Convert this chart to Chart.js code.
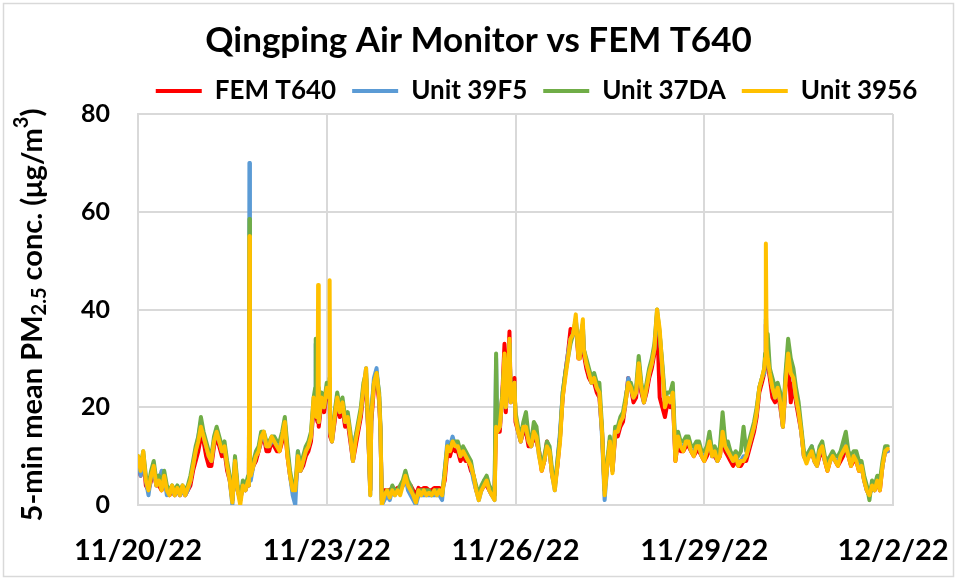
<!DOCTYPE html>
<html>
<head>
<meta charset="utf-8">
<script src="https://cdn.jsdelivr.net/npm/chart.js@4.4.1/dist/chart.umd.min.js"></script>
<style>
  body { margin: 0; background: #fff; }
  #wrap { width: 957px; height: 580px; }
</style>
</head>
<body>
<div id="wrap"><canvas id="pmChart" width="957" height="580"></canvas></div>
<script>
// hours since 11/20/22 00:00 (extra points at the spikes)
const hours = [
  0, 1, 2, 3, 4, 5, 6, 7, 8, 9,
  10, 11, 12, 13, 14, 15, 16, 17, 18, 19,
  20, 21, 22, 23, 24, 25, 26, 27, 28, 29,
  30, 31, 32, 33, 34, 35, 36, 37, 38, 39,
  40, 41, 42, 42.3, 42.5, 42.7, 43, 44, 45, 46,
  47, 48, 49, 50, 51, 52, 53, 54, 55, 56,
  57, 58, 59, 60, 61, 62, 63, 64, 65, 66,
  67, 67.6, 67.8, 68, 68.5, 68.7, 68.9, 69, 70, 71,
  72, 72.9, 73.1, 73.3, 74, 75, 76, 77, 78, 79,
  80, 81, 82, 83, 84, 85, 86, 87, 88, 88.6,
  89, 90, 91, 92, 92.5, 93, 94, 95, 96, 97,
  98, 99, 100, 101, 102, 103, 104, 105, 106, 107,
  108, 109, 110, 111, 112, 113, 114, 115, 116, 117,
  118, 119, 120, 121, 122, 123, 124, 125, 126, 127,
  128, 129, 130, 131, 132, 133, 134, 135, 136, 136.6,
  137, 138, 139, 139.8, 140.3, 141, 141.7, 142.2, 143, 143.6,
  144, 145, 146, 147, 148, 149, 150, 151, 152, 153,
  154, 155, 156, 157, 158, 159, 160, 161, 162, 163,
  164, 165, 166, 167, 168, 168.5, 169, 169.7, 170, 171,
  172, 173, 174, 175, 176, 177, 178, 179, 180, 181,
  182, 183, 184, 185, 186, 187, 188, 189, 190, 191,
  192, 193, 194, 195, 196, 197, 198, 199, 200, 201,
  202, 203, 204, 205, 206, 207, 208, 209, 210, 211,
  212, 213, 214, 215, 216, 217, 218, 219, 220, 221,
  222, 223, 224, 225, 226, 227, 228, 229, 230, 231,
  232, 233, 234, 235, 236, 237, 238, 238.9, 239.2, 239.5,
  239.8, 240.2, 241, 242, 243, 244, 245, 246, 247, 248,
  249, 250, 251, 252, 253, 254, 255, 256, 257, 258,
  259, 260, 261, 262, 263, 264, 265, 266, 267, 268,
  269, 270, 271, 272, 273, 274, 275, 276, 277, 278,
  279, 280, 281, 282, 283, 284, 285, 286
];

const femT640 = [
  9, 6, 10, 4, 3, 5, 7, 4, 4, 3,
  5, 3, 2, 3, 2, 3, 2, 3, 2, 3,
  4, 7, 9, 11, 14, 13, 10, 8, 8, 12,
  14, 12, 10, 11, 7, 5, 1, 8, 3, 1,
  4, 3, 5, 4, 38, 6, 6, 8, 9, 11,
  13, 14, 11, 11, 13, 12, 11, 11, 13, 16,
  10, 6, 3, 3, 9, 7, 8, 10, 11, 13,
  20, 19, 19, 18, 17, 21, 16, 16, 21, 19,
  23, 22, 24, 14, 13, 17, 21, 18, 20, 16,
  17, 13, 9, 12, 15, 18, 23, 26, 12, 3,
  17, 24, 26, 21, 15, 1, 3, 3, 3, 3.5,
  3, 3.5, 3, 4, 5, 4, 4, 3, 2, 3.5,
  3, 3.5, 3.5, 3, 3, 3.5, 3.5, 3.5, 3, 5,
  11, 10, 12, 11, 11, 9, 10, 9, 9, 7,
  6, 3, 2, 3, 4, 4, 3, 2, 2, 17,
  15, 15, 23, 33, 19, 26, 35.5, 21, 24, 26,
  17, 15, 13, 15, 15, 12, 12, 14, 13, 11,
  7, 9, 13, 11, 6, 4, 8, 14, 22, 27,
  31, 36, 35, 37, 30, 30, 34, 36, 31, 28,
  26, 25, 25, 23, 22, 15, 3, 8, 13, 7,
  14, 14, 16, 17, 21, 26, 24, 21, 22, 28,
  23, 21, 23, 26, 28, 31, 38, 22, 20, 18,
  21, 20, 22, 9, 13, 11, 11, 12, 12, 11,
  10, 11, 11, 10, 9, 10, 12, 10, 10, 9,
  10, 15, 11, 10, 9, 8, 9, 8, 8, 9,
  9, 11, 13, 15, 18, 23, 25, 27, 29, 37,
  31, 29, 26, 22, 21, 23, 20, 16, 24, 30,
  21, 25, 21, 18, 15, 10, 9, 10, 11, 9,
  8, 10, 11, 9, 7, 9, 10, 9, 8, 9,
  10, 12, 10, 8, 9, 9, 7, 8, 5, 3,
  2, 4, 3, 5, 3, 8, 11, 11
];

const unit39F5 = [
  9, 6, 10, 5, 2, 6, 7, 4, 5, 7,
  6, 2, 3, 3, 2, 3, 2, 3, 2, 3,
  5, 8, 11, 14, 17, 14, 12, 10, 9, 13,
  15, 13, 11, 12, 8, 5, 0, 9, 3, 1,
  4, 3, 5, 4, 70, 5, 5, 8, 10, 11,
  14, 14, 12, 12, 13, 13, 12, 12, 14, 17,
  11, 6, 2, 0, 11, 7, 9, 11, 12, 14,
  21, 23, 33, 19, 18, 22, 17, 17, 22, 20,
  24, 23, 25, 15, 13, 18, 22, 19, 21, 17,
  18, 14, 9, 14, 16, 19, 24, 28, 12, 2,
  19, 26, 28, 22, 15, 0, 1, 2, 1, 3,
  2, 3, 3, 4, 6, 3, 2, 1, 0, 2,
  2, 2, 2, 2, 2, 2, 2, 2, 1, 7,
  13, 12, 14, 12, 12, 10, 11, 10, 9, 8,
  5, 3, 1, 3, 5, 5, 3, 2, 1, 30,
  15, 16, 22, 30, 20, 25, 33, 21, 23, 25,
  18, 15, 13, 16, 16, 13, 12, 15, 14, 10,
  8, 9, 12, 11, 6, 3, 9, 15, 23, 27,
  31, 34, 35, 38, 31, 31, 35, 37, 32, 29,
  27, 25, 26, 24, 23, 14, 1, 8, 13, 7,
  15, 15, 17, 18, 21, 26, 24, 22, 23, 29,
  24, 21, 24, 27, 29, 32, 39, 35, 28, 21,
  22, 21, 23, 10, 14, 12, 12, 13, 13, 11,
  11, 12, 12, 10, 10, 11, 14, 10, 11, 9,
  11, 17, 12, 11, 10, 9, 10, 9, 9, 10,
  10, 12, 14, 16, 19, 24, 26, 27, 30, 38,
  32, 31, 27, 24, 22, 24, 21, 16, 26, 32,
  27, 26, 22, 19, 15, 10, 9, 11, 12, 9,
  8, 11, 12, 9, 8, 9, 10, 9, 9, 10,
  11, 13, 10, 9, 10, 10, 8, 8, 5, 3,
  2, 4, 3, 5, 4, 8, 11, 11
];

const unit37DA = [
  10, 8, 11, 6, 4, 7, 9, 5, 6, 4,
  7, 4, 3, 4, 3, 4, 3, 4, 3, 4,
  6, 9, 12, 14, 18, 15, 13, 11, 10, 14,
  16, 14, 12, 13, 9, 6, 1, 10, 4, 1,
  5, 4, 6, 5, 58.5, 7, 7, 9, 11, 12,
  15, 15, 13, 13, 14, 14, 13, 13, 15, 18,
  12, 7, 4, 4, 11, 8, 10, 12, 13, 15,
  22, 24, 34, 20, 19, 24, 18, 18, 23, 21,
  25, 24, 26, 16, 14, 19, 23, 20, 22, 18,
  19, 15, 10, 14, 17, 20, 25, 27, 13, 3,
  19, 25, 27, 23, 16, 1, 2, 3, 2, 4,
  3, 3, 4, 5, 7, 5, 4, 2, 1, 3,
  3, 3, 3, 3, 2, 3, 3, 3, 2, 7,
  12, 12, 13, 13, 13, 11, 12, 11, 10, 9,
  6, 4, 2, 4, 5, 6, 4, 3, 2, 31,
  16, 17, 23, 29, 21, 26, 33, 22, 24, 24,
  19, 16, 14, 17, 19, 14, 13, 17, 16, 11,
  8, 10, 13, 12, 7, 4, 9, 14, 23, 27,
  30, 33, 35, 38, 31, 31, 35, 37, 32, 30,
  28, 26, 27, 25, 25, 16, 3, 9, 14, 8,
  16, 16, 18, 19, 22, 25, 25, 23, 24, 30.5,
  25, 22, 25, 28, 30, 33, 40, 35, 29, 22,
  23, 23, 25, 11, 15, 13, 13, 14, 14, 12,
  12, 13, 13, 11, 11, 12, 15, 11, 12, 10,
  12, 19, 13, 13, 11, 10, 11, 10, 11, 16,
  11, 13, 15, 17, 20, 24, 26, 28, 31, 40,
  33, 35, 28, 26, 24, 25, 23, 17, 27, 34,
  30, 28, 24, 21, 16, 11, 10, 11, 12, 10,
  9, 12, 13, 10, 9, 10, 11, 10, 10, 11,
  13, 15, 11, 10, 11, 11, 9, 9, 6, 4,
  1, 5, 4, 6, 5, 9, 12, 12
];

const unit3956 = [
  10, 7, 11, 5, 3, 6, 8, 4, 5, 3,
  6, 3, 2, 4, 2, 3.5, 2, 4, 2, 3.5,
  5, 8, 11, 13, 16, 14, 12, 10, 9, 13,
  15, 13, 11, 12, 8, 5, 0.5, 9, 3, 0,
  4, 3, 5, 4, 55, 6, 6, 8, 10, 11,
  14, 15, 12, 12, 14, 13, 12, 11, 14, 17,
  10, 6, 3, 3, 10, 7, 9, 11, 12, 14,
  22, 20, 20, 18, 18, 45, 17, 17, 22, 20,
  24, 22, 46, 15, 13, 18, 22, 19, 21, 17,
  18, 14, 9, 13, 16, 19, 24, 28, 12, 2,
  18, 25, 27, 22, 15, 0, 2, 3, 1.5, 3,
  2, 3, 2, 4, 6, 4, 3, 2, 0.5, 3,
  2, 3, 2, 2.5, 2, 3, 2, 3, 2, 6,
  12, 11, 13, 12, 12, 10, 11, 10, 9, 8,
  6, 3, 1, 3, 4, 5, 3, 2, 1, 16,
  15, 16, 22, 31, 20, 25, 34, 21, 23, 25,
  18, 15, 13, 16, 16, 13, 12, 15, 14, 10,
  7, 9, 12, 11, 6, 3, 8, 13, 22, 26,
  30, 34, 35, 39, 30, 30, 35, 38, 32, 29,
  27, 25, 26, 24, 23, 15, 2, 8, 13, 6.5,
  15, 15, 17, 18, 21, 25, 24, 22, 23, 29,
  24, 21, 24, 27, 29, 32, 40, 36, 28, 20,
  22, 21, 23, 9, 14, 12, 11, 13, 13, 11,
  10, 12, 12, 10, 9, 11, 13, 10, 11, 9,
  10, 15, 12, 11, 10, 9, 10, 8, 9, 9,
  10, 12, 14, 16, 19, 24, 26, 28, 30, 53.5,
  32, 30, 27, 24, 22, 24, 21, 16, 25, 31,
  27, 26, 22, 19, 15, 10, 8.5, 10, 11, 9,
  8, 11, 12, 9, 7, 9, 10, 9, 8, 10,
  11, 12, 10, 8, 10, 9, 7, 8, 5, 3,
  2, 4, 3, 5, 3, 8, 11, 11.5
];

const xTickLabels = ['11/20/22', '11/23/22', '11/26/22', '11/29/22', '12/2/22'];
const yTicks = [0, 20, 40, 60, 80];

const FONT = 'Lato, "Open Sans", sans-serif';

function pts(vals) {
    return hours.map((h, i) => ({x: h, y: vals[i]}));
}

function line(label, vals, color, order) {
    return {
        label: label,
        data: pts(vals),
        borderColor: color,
        backgroundColor: color,
        borderWidth: 4,
        pointRadius: 0,
        tension: 0,
        borderJoinStyle: 'round',
        borderCapStyle: 'round',
        order: order
    };
}

// white page, outer chart frame, rotated y title with sub/superscript
const frame = {
    id: 'frame',
    afterLayout(chart) {
        // title sits centred on the whole page, legend a bit to the right of it
        if (chart.titleBlock) { chart.titleBlock.left += 32; chart.titleBlock.right += 32; }
        if (chart.legend) { chart.legend.left += 90; chart.legend.right += 90; }
    },
    beforeDraw(chart) {
        const ctx = chart.ctx;
        ctx.save();
        ctx.fillStyle = '#fff';
        ctx.fillRect(0, 0, chart.width, chart.height);
        ctx.strokeStyle = '#d9d9d9';
        ctx.lineWidth = 1.5;
        ctx.strokeRect(3.5, 3.5, chart.width - 7, chart.height - 7);
        ctx.restore();
    },
    afterDraw(chart) {
        const ctx = chart.ctx;
        const big = 'bold 29px ' + FONT;
        const small = 'bold 20px ' + FONT;
        const parts = [
            {t: '5-min mean PM', f: big, dy: 0},
            {t: '2.5', f: small, dy: 7},
            {t: ' conc. (\u03bcg/m', f: big, dy: 0},
            {t: '3', f: small, dy: -11},
            {t: ')', f: big, dy: 0}
        ];
        ctx.save();
        let total = 0;
        parts.forEach(p => { ctx.font = p.f; p.w = ctx.measureText(p.t).width; total += p.w; });
        ctx.translate(33, 315);
        ctx.rotate(-Math.PI / 2);
        ctx.fillStyle = '#000';
        ctx.textBaseline = 'middle';
        let x = -total / 2;
        parts.forEach(p => {
            ctx.font = p.f;
            ctx.fillText(p.t, x, p.dy);
            x += p.w;
        });
        ctx.restore();
    }
};

new Chart(document.getElementById('pmChart'), {
    type: 'line',
    data: {
        datasets: [
            line('FEM T640', femT640, '#ff0000', 3),
            line('Unit 39F5', unit39F5, '#5b9bd5', 2),
            line('Unit 37DA', unit37DA, '#70ad47', 1),
            line('Unit 3956', unit3956, '#ffc000', 0)
        ]
    },
    options: {
        responsive: false,
        animation: false,
        layout: { padding: { left: 0, right: 64, top: 1, bottom: 0 } },
        plugins: {
            title: {
                display: true,
                text: 'Qingping Air Monitor vs FEM T640',
                color: '#000',
                font: { family: FONT, size: 35, weight: 'bold' },
                padding: { top: 19, bottom: 0 }
            },
            legend: {
                position: 'top',
                labels: {
                    color: '#000',
                    font: { family: FONT, size: 26, weight: 'bold' },
                    usePointStyle: true,
                    pointStyle: 'line',
                    pointStyleWidth: 46,
                    padding: 16,
                    sort: (a, b) => a.datasetIndex - b.datasetIndex
                }
            },
            tooltip: { enabled: false }
        },
        scales: {
            x: {
                type: 'linear',
                min: 0,
                max: 288,
                afterBuildTicks: s => { s.ticks = xTickLabels.map((_, i) => ({value: i * 72})); },
                afterFit: s => { s.height = 75; s.paddingLeft = 0; s.paddingRight = 0; },
                ticks: {
                    color: '#000',
                    autoSkip: false,
                    maxRotation: 0,
                    padding: 28,
                    font: { family: FONT, size: 29, weight: 'bold' },
                    callback: (v, i) => xTickLabels[i]
                },
                grid: { color: '#d9d9d9', lineWidth: 2, drawTicks: false },
                border: { color: '#d9d9d9', width: 2 }
            },
            y: {
                min: 0,
                max: 80,
                afterBuildTicks: s => { s.ticks = yTicks.map(v => ({value: v})); },
                afterFit: s => { s.width = 138; },
                ticks: {
                    color: '#000',
                    padding: 28,
                    font: { family: FONT, size: 25, weight: 'bold' }
                },
                grid: { color: '#d9d9d9', lineWidth: 2, drawTicks: false },
                border: { color: '#d9d9d9', width: 2 }
            }
        }
    },
    plugins: [frame]
});
</script>
</body>
</html>
